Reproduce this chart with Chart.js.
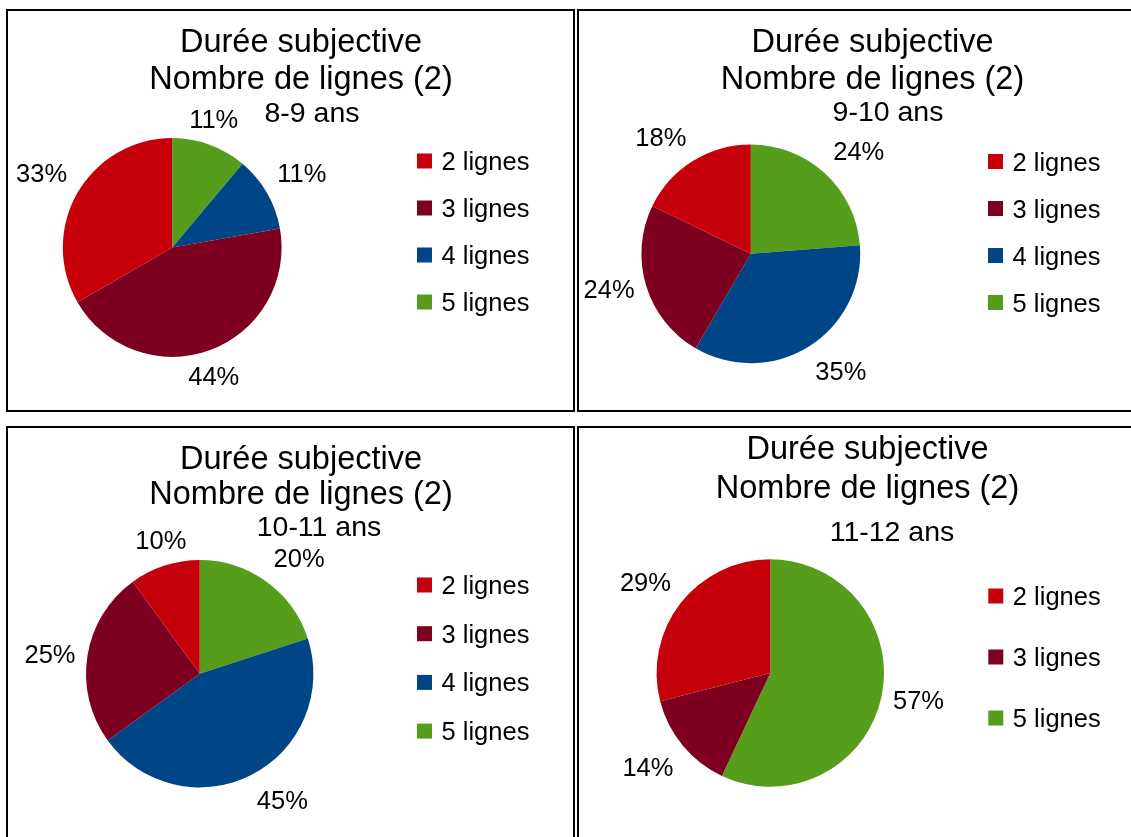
<!DOCTYPE html>
<html lang="fr">
<head>
<meta charset="utf-8">
<title>Durée subjective - Nombre de lignes (2)</title>
<script src="https://cdn.jsdelivr.net/npm/chart.js@4.4.1/dist/chart.umd.min.js"></script>
<style>
  html, body { margin: 0; padding: 0; background: #fff; overflow: hidden; width: 1131px; height: 837px; position: relative; }
  .cadre { position: absolute; border: 2px solid #000; box-sizing: border-box; width: 569px; background: #fff; overflow: hidden; }
  .cadre canvas { position: absolute; left: 0; top: 0; }
</style>
</head>
<body>
<div class="cadre" style="left:6px;top:9px;height:403px"><canvas id="g1" width="565" height="399"></canvas></div>
<div class="cadre" style="left:577px;top:9px;height:403px"><canvas id="g2" width="565" height="399"></canvas></div>
<div class="cadre" style="left:6px;top:426px;height:420px"><canvas id="g3" width="565" height="416"></canvas></div>
<div class="cadre" style="left:577px;top:426px;height:420px"><canvas id="g4" width="565" height="416"></canvas></div>
<script>
// Données
const titre = ["Durée subjective", "Nombre de lignes (2)"];
const ages = ["8-9 ans", "9-10 ans", "10-11 ans", "11-12 ans"];
const categories = ["2 lignes", "3 lignes", "4 lignes", "5 lignes"];
const categories1112 = ["2 lignes", "3 lignes", "5 lignes"]; // pas de 4 lignes pour 11-12 ans
const pct89 = [33, 44, 11, 11];
const pct910 = [18, 24, 35, 24];
const pct1011 = [10, 25, 45, 20];
const pct1112 = [29, 14, 57];

const couleurs = {
  "2 lignes": "#c5000b",
  "3 lignes": "#7e0021",
  "4 lignes": "#004586",
  "5 lignes": "#579d1c"
};

const police = '"Liberation Sans", Arial, sans-serif';

// Mise en page de chaque cadre (coordonnées dans le canvas)
const cadres = [
  { id: "g1", age: ages[0], cats: categories, vals: pct89,
    pie: { cx: 164.2, cy: 236.5, r: 109.4 },
    titreX: 293, titreY: [40.5, 77.5], ageX: 304, ageY: 111,
    legX: 409, legY: 150, legPas: 47 },
  { id: "g2", age: ages[1], cats: categories, vals: pct910,
    pie: { cx: 171.8, cy: 242.8, r: 109.4 },
    titreX: 293.5, titreY: [40.5, 77.5], ageX: 309, ageY: 110,
    legX: 409, legY: 150.5, legPas: 47 },
  { id: "g3", age: ages[2], cats: categories, vals: pct1011,
    pie: { cx: 191.7, cy: 245.7, r: 113.7 },
    titreX: 293, titreY: [40.5, 75.5], ageX: 311, ageY: 108,
    legX: 409, legY: 157, legPas: 48.7 },
  { id: "g4", age: ages[3], cats: categories1112, vals: pct1112,
    pie: { cx: 191.3, cy: 245, r: 113.7 },
    titreX: 288.5, titreY: [30.5, 69.5], ageX: 313, ageY: 113,
    legX: 409.3, legY: 168, legPas: 61 }
];

// Plugin : titres, pourcentages (placement à la LibreOffice) et légende
const decor = {
  id: "decor",
  afterDraw(chart, args, opts) {
    const ctx = chart.ctx;
    ctx.save();
    ctx.fillStyle = "#000";
    ctx.textBaseline = "alphabetic";
    ctx.textAlign = "center";

    ctx.font = "32.5px " + police;
    titre.forEach((t, i) => ctx.fillText(t, opts.titreX, opts.titreY[i]));
    ctx.font = "28.5px " + police;
    ctx.fillText(opts.age, opts.ageX, opts.ageY);

    // pourcentages autour du camembert
    ctx.font = "25.5px " + police;
    const meta = chart.getDatasetMeta(0);
    const valeurs = chart.data.datasets[0].data;
    meta.data.forEach((arc, i) => {
      const p = arc.getProps(["x", "y", "startAngle", "endAngle", "outerRadius"], true);
      const mid = (p.startAngle + p.endAngle) / 2;
      let theta = (-mid * 180 / Math.PI) % 360;
      if (theta < 0) theta += 360;
      const R = p.outerRadius + 12;
      const px = p.x + R * Math.cos(mid);
      const py = p.y + R * Math.sin(mid);
      const txt = valeurs[i] + "%";
      const hw = ctx.measureText(txt).width / 2;
      const hh = 14;
      let dx = 0, dy = 0;
      if (theta <= 22.5 || theta > 337.5) { dx = hw; }
      else if (theta < 67.5) { dx = hw; dy = -hh; }
      else if (theta < 112.5) { dy = -hh; }
      else if (theta <= 157.5) { dx = -hw; dy = -hh; }
      else if (theta <= 202.5) { dx = -hw; }
      else if (theta < 247.5) { dx = -hw; dy = hh; }
      else if (theta < 292.5) { dy = hh; }
      else { dx = hw; dy = hh; }
      ctx.fillText(txt, px + dx, py + dy + 9);
    });

    // légende (ordre 2, 3, 4, 5 lignes)
    ctx.textAlign = "left";
    const labels = chart.data.labels.slice().reverse();
    const fonds = chart.data.datasets[0].backgroundColor.slice().reverse();
    labels.forEach((lab, i) => {
      const y = opts.legY + i * opts.legPas;
      ctx.fillStyle = fonds[i];
      ctx.fillRect(opts.legX, y - 7.5, 15, 15);
      ctx.fillStyle = "#000";
      ctx.fillText(lab, opts.legX + 24.5, y + 9);
    });
    ctx.restore();
  }
};

cadres.forEach((c) => {
  const canvas = document.getElementById(c.id);
  const W = canvas.width, H = canvas.height;
  // le camembert part du haut dans le sens horaire : 5 lignes d'abord
  const labels = c.cats.slice().reverse();
  const data = c.vals.slice().reverse();
  new Chart(canvas.getContext("2d"), {
    type: "pie",
    data: {
      labels: labels,
      datasets: [{
        data: data,
        backgroundColor: labels.map((l) => couleurs[l]),
        borderWidth: 0,
        hoverOffset: 0,
        offset: 0
      }]
    },
    options: {
      responsive: false,
      animation: false,
      events: [],
      layout: {
        padding: {
          left: c.pie.cx - c.pie.r,
          top: c.pie.cy - c.pie.r,
          right: W - c.pie.cx - c.pie.r,
          bottom: H - c.pie.cy - c.pie.r
        }
      },
      plugins: {
        legend: { display: false },
        title: { display: false },
        tooltip: { enabled: false },
        decor: c
      }
    },
    plugins: [decor]
  });
});
</script>
</body>
</html>
